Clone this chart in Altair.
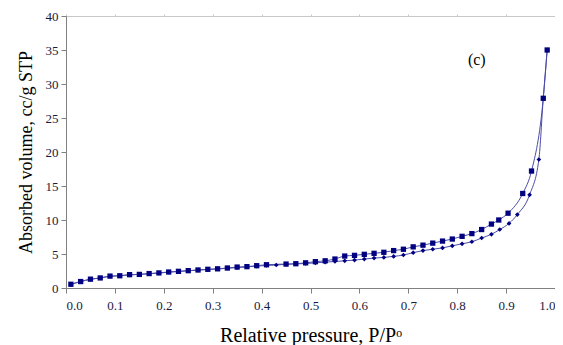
import altair as alt
import pandas as pd

# Lower branch (diamond markers)
ads_x = [0.01, 0.03, 0.05, 0.07, 0.09, 0.11, 0.13, 0.15, 0.17, 0.19, 0.21, 0.23, 0.25, 0.27,
         0.29, 0.31, 0.33, 0.35, 0.37, 0.39, 0.41, 0.43, 0.45, 0.47, 0.49, 0.51, 0.53, 0.55,
         0.57, 0.59, 0.61, 0.63, 0.65, 0.67, 0.69, 0.71, 0.73, 0.75, 0.77, 0.79, 0.81, 0.83,
         0.85, 0.87, 0.887, 0.906, 0.923, 0.948, 0.967, 0.976, 0.984]
ads_y = [0.55, 0.95, 1.28, 1.47, 1.72, 1.8, 1.93, 2.0, 2.1, 2.2, 2.33, 2.43, 2.53, 2.63,
         2.72, 2.8, 2.9, 3.0, 3.1, 3.22, 3.32, 3.38, 3.48, 3.55, 3.6, 3.7, 3.8, 3.9,
         4.0, 4.1, 4.25, 4.4, 4.5, 4.65, 4.85, 5.2, 5.5, 5.7, 5.9, 6.2, 6.5, 6.8,
         7.35, 7.9, 8.6, 9.5, 10.8, 13.7, 18.9, 27.9, 35.0]

# Upper branch (square markers)
des_x = [0.01, 0.03, 0.05, 0.07, 0.09, 0.11, 0.13, 0.15, 0.17, 0.19, 0.21, 0.23, 0.25, 0.27,
         0.29, 0.31, 0.33, 0.35, 0.37, 0.39, 0.41, 0.45, 0.47, 0.49, 0.51, 0.53, 0.55,
         0.57, 0.59, 0.61, 0.63, 0.65, 0.67, 0.69, 0.71, 0.73, 0.75, 0.77, 0.79, 0.81, 0.83,
         0.85, 0.87, 0.885, 0.904, 0.934, 0.952, 0.976, 0.984]
des_y = [0.55, 0.95, 1.3, 1.48, 1.75, 1.8, 1.96, 2.0, 2.12, 2.22, 2.35, 2.45, 2.55, 2.65,
         2.75, 2.82, 2.94, 3.08, 3.14, 3.28, 3.42, 3.52, 3.57, 3.7, 3.87, 4.0, 4.26,
         4.7, 4.8, 4.95, 5.1, 5.25, 5.5, 5.7, 6.05, 6.3, 6.6, 6.9, 7.2, 7.6, 8.0,
         8.6, 9.4, 10.0, 11.0, 13.9, 17.2, 27.9, 35.0]

x_ticks = [0.0, 0.1, 0.2, 0.3, 0.4, 0.5, 0.6, 0.7, 0.8, 0.9, 1.0]
y_ticks = [0, 5, 10, 15, 20, 25, 30, 35, 40]

ads = pd.DataFrame({"p": ads_x, "v": ads_y})
des = pd.DataFrame({"p": des_x, "v": des_y})
lab = pd.DataFrame({"p": [0.84], "v": [33.5], "t": ["(c)"]})

FONT = "'Liberation Serif', 'Times New Roman', 'DejaVu Serif', serif"
LINE = "#4b4ba8"
MARK = "#000080"
LABEL = "#1a1a40"

xs = alt.Scale(domain=[0, 1], nice=False, zero=False)
ys = alt.Scale(domain=[0, 40], nice=False)

x_bottom = alt.X("p:Q", scale=xs, title="Relative pressure, P/Pᵒ",
                 axis=alt.Axis(values=x_ticks, format=".1f", orient="bottom", grid=False,
                               domainColor="#808080", tickColor="#808080", tickSize=5,
                               labelFont=FONT, labelFontSize=13, labelColor=LABEL, labelPadding=6,
                               titleFont=FONT, titleFontSize=20, titleFontWeight="normal",
                               titleColor="#000000", titlePadding=13))
y_left = alt.Y("v:Q", scale=ys, title="Absorbed volume, cc/g STP",
               axis=alt.Axis(values=y_ticks, orient="left", grid=False,
                             domainColor="#808080", tickColor="#808080", tickSize=5,
                             labelFont=FONT, labelFontSize=13, labelColor=LABEL, labelPadding=3,
                             titleFont=FONT, titleFontSize=18, titleFontWeight="normal",
                             titleColor="#000000", titlePadding=10))

x_top = alt.X("p:Q", scale=xs, title=None,
              axis=alt.Axis(values=x_ticks, orient="top", grid=False, labels=False,
                            domainColor="#c8c8c8", tickColor="#c8c8c8", tickSize=2))
y_right = alt.Y("v:Q", scale=ys, title=None,
                axis=alt.Axis(values=y_ticks, orient="right", grid=False, labels=False,
                              domainColor="#c8c8c8", tickColor="#c8c8c8", tickSize=4))

x_none = alt.X("p:Q", scale=xs, axis=None)
y_none = alt.Y("v:Q", scale=ys, axis=None)

ads_line = alt.Chart(ads).mark_line(color=LINE, strokeWidth=1, interpolate="monotone").encode(
    x=x_bottom, y=y_left)
ads_pts = alt.Chart(ads).mark_point(shape="diamond", filled=True, color=MARK, size=22, opacity=1).encode(
    x=x_none, y=y_none)
des_line = alt.Chart(des).mark_line(color=LINE, strokeWidth=1, interpolate="monotone").encode(
    x=x_none, y=y_none)
des_pts = alt.Chart(des).mark_point(shape="square", filled=True, color=MARK, size=28, opacity=1).encode(
    x=x_none, y=y_none)
frame = alt.Chart(lab).mark_point(opacity=0).encode(x=x_top, y=y_right)
text = alt.Chart(lab).mark_text(font=FONT, fontSize=16, color="#000000").encode(
    x=x_none, y=y_none, text="t:N")

chart = alt.layer(ads_line, des_line, ads_pts, des_pts, text, frame).resolve_axis(
    x="independent", y="independent"
).properties(
    width=489, height=272,
    padding={"left": 58, "top": 8, "right": 0, "bottom": 57},
    autosize=alt.AutoSizeParams(type="none"),
).configure_view(stroke=None).configure(background="white")

chart.save("out.html", embed_options={"renderer": "svg", "actions": False})
